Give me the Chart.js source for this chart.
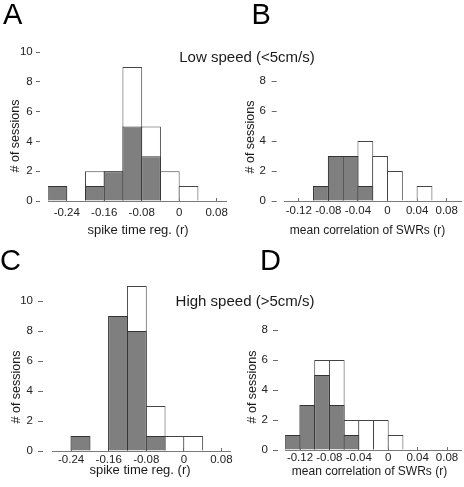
<!DOCTYPE html>
<html lang="en">
<head>
<meta charset="UTF-8">
<title>Sessions histograms</title>
<style>
  body { margin: 0; background: #fff; }
  #wrap { position: relative; width: 464px; height: 487px; overflow: hidden;
          font-family: "Liberation Sans", Arial, sans-serif; color: #1a1a1a; }
  #wrap canvas { position: absolute; left: 0; top: 0; }
  .lbl { position: absolute; white-space: nowrap; line-height: 1; transform: translate(-50%, -50%); }
  .letter { position: absolute; font-size: 29px; line-height: 1; color: #000; }
  .speed { font-size: 15px; }
  .xt { font-size: 13px; }
  .xt2 { font-size: 12px; }
  .yt { font-size: 12.5px; transform: translate(-50%, -50%) rotate(-90deg); }
</style>
<script src="https://cdn.jsdelivr.net/npm/chart.js"></script>
</head>
<body>
<div id="wrap">
  <canvas id="chartA" width="464" height="487"></canvas>
  <canvas id="chartB" width="464" height="487"></canvas>
  <canvas id="chartC" width="464" height="487"></canvas>
  <canvas id="chartD" width="464" height="487"></canvas>

  <div class="letter" style="left:3px; top:0px;">A</div>
  <div class="letter" style="left:251.5px; top:0px;">B</div>
  <div class="letter" style="left:0px; top:246px;">C</div>
  <div class="letter" style="left:260px; top:246px;">D</div>

  <div class="lbl speed" style="left:247px; top:56.2px;">Low speed (&lt;5cm/s)</div>
  <div class="lbl speed" style="left:245px; top:299.5px;">High speed (&gt;5cm/s)</div>

  <div class="lbl xt" style="left:138px; top:229px;">spike time reg. (r)</div>
  <div class="lbl xt2" style="left:367.5px; top:230px;">mean correlation of SWRs (r)</div>
  <div class="lbl xt" style="left:140px; top:469px;">spike time reg. (r)</div>
  <div class="lbl xt2" style="left:369.5px; top:470.6px;">mean correlation of SWRs (r)</div>

  <div class="lbl yt" style="left:15px; top:136px;"># of sessions</div>
  <div class="lbl yt" style="left:250px; top:137px;"># of sessions</div>
  <div class="lbl yt" style="left:16px; top:387px;"># of sessions</div>
  <div class="lbl yt" style="left:252px; top:387px;"># of sessions</div>
</div>

<script>
    // bin centres (r) and session counts; "all" = open bars, "sig" = grey bars
    const binsSpikeLow = [-0.26, -0.22, -0.18, -0.14, -0.10, -0.06, -0.02, 0.02];
    const lowSpikeAll = [1, 0, 2, 2, 9, 5, 2, 1];
    const lowSpikeSig = [1, 0, 1, 2, 5, 3, 0, 0];

    const binsCorrLow = [-0.09, -0.07, -0.05, -0.03, -0.01, 0.01, 0.03, 0.05];
    const lowCorrAll = [1, 3, 3, 4, 3, 2, 0, 1];
    const lowCorrSig = [1, 3, 3, 1, 0, 0, 0, 0];

    const binsSpikeHigh = [-0.22, -0.18, -0.14, -0.10, -0.06, -0.02, 0.02];
    const highSpikeAll = [1, 0, 9, 11, 3, 1, 1];
    const highSpikeSig = [1, 0, 9, 8, 1, 0, 0];

    const binsCorrHigh = [-0.13, -0.11, -0.09, -0.07, -0.05, -0.03, -0.01, 0.01];
    const highCorrAll = [1, 3, 6, 6, 2, 2, 2, 1];
    const highCorrSig = [1, 3, 5, 3, 1, 0, 0, 0];

    // tick labels
    const spikeTicks = ['-0.24', '-0.16', '-0.08', '0', '0.08'];
    const corrTicks = ['-0.12', '-0.08', '-0.04', '0', '0.04', '0.08'];
    const countTicks10 = ['0', '2', '4', '6', '8', '10'];
    const countTicks8 = ['0', '2', '4', '6', '8'];

    const W = 464, H = 487;
    const yAxisW = 40, xAxisH = 30;
    const tickFont = { family: '"Liberation Sans", Arial, sans-serif', size: 11.5 };

    // panel layout: plot area in page pixels, tick dash/gap, label offsets
    const panels = [
        { id: 'chartA', bins: binsSpikeLow, all: lowSpikeAll, sig: lowSpikeSig,
          xTicks: spikeTicks, yTicks: countTicks10, xMin: -0.28, xMax: 0.10, yMax: 10,
          area: { l: 48, t: 52, r: 226, b: 201 }, dash: 4, gap: 8, yPad: 3.3, xLab: 11.5 },
        { id: 'chartB', bins: binsCorrLow, all: lowCorrAll, sig: lowCorrSig,
          xTicks: corrTicks, yTicks: countTicks8, xMin: -0.14, xMax: 0.10, yMax: 8,
          area: { l: 284, t: 81, r: 461.5, b: 201 }, dash: 5, gap: 7.3, yPad: 5.7, xLab: 10.3 },
        { id: 'chartC', bins: binsSpikeHigh, all: highSpikeAll, sig: highSpikeSig,
          xTicks: spikeTicks, yTicks: countTicks10, xMin: -0.28, xMax: 0.10, yMax: 11,
          area: { l: 52.3, t: 286, r: 230.8, b: 451 }, dash: 5, gap: 9.3, yPad: 5, xLab: 9 },
        { id: 'chartD', bins: binsCorrHigh, all: highCorrAll, sig: highCorrSig,
          xTicks: corrTicks, yTicks: countTicks8, xMin: -0.14, xMax: 0.10, yMax: 8,
          area: { l: 285.3, t: 330, r: 461.7, b: 450 }, dash: 5, gap: 7.3, yPad: 5, xLab: 8 }
    ];

    function drawPanel(p) {
        const a = p.area;
        const binW = p.bins[1] - p.bins[0];
        const binPx = binW / (p.xMax - p.xMin) * (a.r - a.l);
        // bars overlap by 1px so shared edges show a single line
        const barPct = 1 + 1 / binPx;
        const xTl = -3;

        const toPoints = counts => p.bins.map((x, i) => ({ x: x, y: counts[i] }));

        new Chart(document.getElementById(p.id), {
            type: 'bar',
            data: {
                datasets: [{
                    label: 'grey',
                    data: toPoints(p.sig),
                    backgroundColor: '#7f7f7f',
                    borderColor: '#333333',
                    borderWidth: 1,
                    grouped: false,
                    barPercentage: barPct,
                    categoryPercentage: 1
                }, {
                    label: 'all',
                    data: toPoints(p.all),
                    backgroundColor: '#ffffff',
                    borderColor: '#444444',
                    borderWidth: 1,
                    grouped: false,
                    barPercentage: barPct,
                    categoryPercentage: 1
                }]
            },
            options: {
                responsive: false,
                animation: false,
                events: [],
                layout: {
                    padding: { left: a.l - yAxisW, top: a.t, right: W - a.r, bottom: H - a.b - xAxisH }
                },
                plugins: { legend: { display: false }, tooltip: { enabled: false } },
                scales: {
                    x: {
                        type: 'linear',
                        min: p.xMin,
                        max: p.xMax,
                        offset: false,
                        afterBuildTicks: s => { s.ticks = p.xTicks.map(t => ({ value: Number(t) })); },
                        afterFit: s => { s.height = xAxisH; s.paddingLeft = 0; s.paddingRight = 0; },
                        grid: { offset: false, drawOnChartArea: false, drawTicks: true, tickLength: xTl, tickColor: '#6a6a6a' },
                        border: { display: true, color: '#7a7a7a', width: 1 },
                        ticks: {
                            autoSkip: false, maxRotation: 0,
                            callback: (v, i) => p.xTicks[i],
                            padding: p.xLab - 6.9 - xTl,
                            font: tickFont, color: '#222'
                        }
                    },
                    y: {
                        min: 0,
                        max: p.yMax,
                        afterBuildTicks: s => { s.ticks = p.yTicks.map(t => ({ value: Number(t) })); },
                        afterFit: s => { s.width = yAxisW; s.paddingTop = 0; s.paddingBottom = 0; },
                        grid: {
                            drawOnChartArea: false, drawTicks: true,
                            tickLength: p.dash + p.gap,
                            tickBorderDash: [p.dash, p.gap],
                            tickColor: '#6a6a6a'
                        },
                        border: { display: false },
                        ticks: {
                            callback: (v, i) => p.yTicks[i],
                            padding: p.yPad,
                            font: tickFont, color: '#222'
                        }
                    }
                }
            }
        });
    }

    panels.forEach(drawPanel);
</script>
</body>
</html>
